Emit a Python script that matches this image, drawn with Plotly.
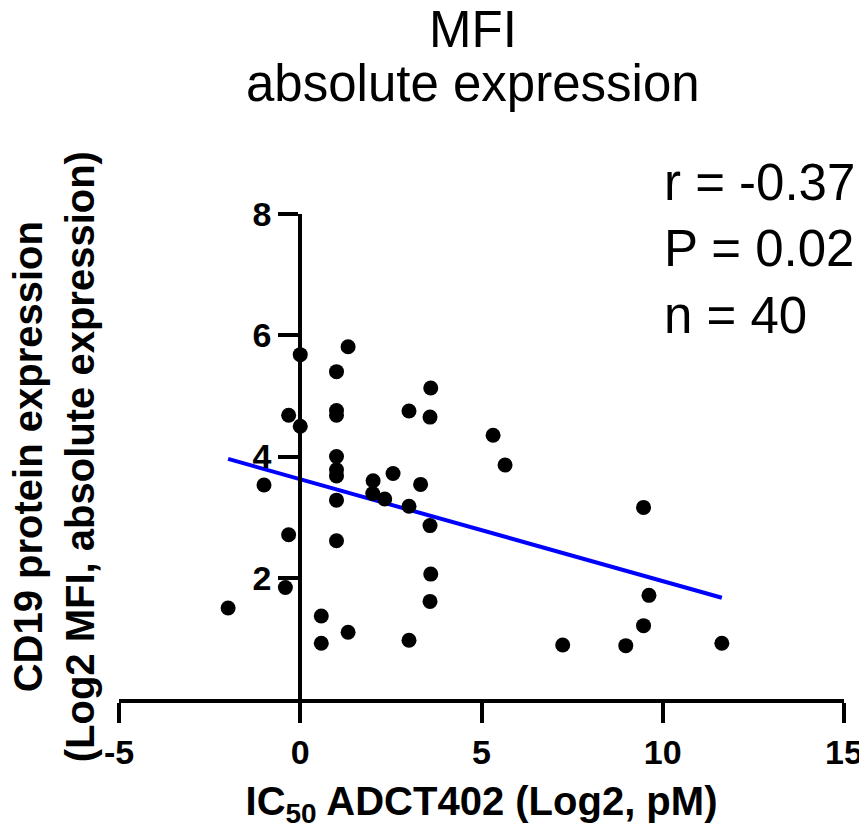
import plotly.graph_objects as go

# IC50 ADCT402 (Log2, pM) vs CD19 MFI (Log2)
ic50 = [0.0, 1.32, 1.0, -0.32, 1.0, 1.0, 0.0, 1.0, 1.0, 1.0,
        -1.0, 1.0, 2.01, 2.56, 2.0, 2.33, -0.32, 1.0, -0.41, -1.99,
        0.58, 1.32, 0.58, 3.6, 3.0, 3.58, 5.32, 5.65, 3.32, 3.0,
        3.58, 9.47, 3.6, 3.58, 9.62, 9.47, 3.0, 7.24, 8.98, 11.63]
mfi = [5.68, 5.81, 5.4, 4.68, 4.76, 4.68, 4.5, 4.0, 3.78, 3.68,
       3.53, 3.28, 3.6, 3.72, 3.39, 3.3, 2.71, 2.61, 1.84, 1.5,
       1.37, 1.1, 0.92, 5.13, 4.75, 4.65, 4.35, 3.86, 3.54, 3.18,
       2.86, 3.16, 2.06, 1.61, 1.71, 1.21, 0.97, 0.89, 0.88, 0.92]

# regression line ends
fit_x = [-1.99, 11.63]
fit_y = [3.96, 1.67]

x_ticks = [-5, 0, 5, 10, 15]
x_labels = ["-5", "0", "5", "10", "15"]
y_ticks = [2, 4, 6, 8]
stats = ["r = -0.37", "P = 0.02", "n = 40"]

font = "Arial, Liberation Sans, Helvetica, sans-serif"

fig = go.Figure()
fig.add_trace(go.Scatter(x=fit_x, y=fit_y, mode="lines",
                         line=dict(color="#0000ff", width=4), showlegend=False))
fig.add_trace(go.Scatter(x=ic50, y=mfi, mode="markers",
                         marker=dict(color="black", size=15), showlegend=False))

# page body has an 8px margin, so the figure is a bit smaller than the window
fig.update_layout(
    width=859, height=824,
    margin=dict(l=111, r=23, t=206, b=133),
    plot_bgcolor="white", paper_bgcolor="white",
    font=dict(family=font, color="black"),
    xaxis=dict(range=[-5, 15], tickvals=x_ticks, ticktext=x_labels,
               showline=True, linewidth=4, automargin=False,
               linecolor="black", ticks="outside", ticklen=20, tickwidth=4,
               tickcolor="black", showgrid=False, zeroline=False,
               tickfont=dict(size=34, family=font, weight="bold"),
               ticklabelstandoff=0,
               title=dict(text="<b>IC<sub>50</sub> ADCT402 (Log2, pM)</b>",
                          font=dict(size=40), standoff=18)),
    yaxis=dict(range=[0, 8], tickvals=y_ticks, showline=True, linewidth=4,
               linecolor="black", ticks="outside", ticklen=20, tickwidth=4,
               tickcolor="black", showgrid=False, zeroline=False,
               anchor="free", position=0.25, automargin=False,
               tickfont=dict(size=34, family=font, weight="bold")),
)

# two-line title
fig.add_annotation(text="MFI", xref="paper", yref="paper", x=0.488, y=1.381,
                   xanchor="center", yanchor="middle", showarrow=False,
                   font=dict(size=51))
fig.add_annotation(text="absolute expression", xref="paper", yref="paper",
                   x=0.488, y=1.27, xanchor="center", yanchor="middle",
                   showarrow=False, font=dict(size=51))

fig.add_annotation(text="<b>CD19 protein expression<br>(Log2 MFI, absolute expression)</b>",
                   textangle=-90, xref="paper", yref="paper", x=-0.09, y=0.5,
                   xanchor="center", yanchor="middle", showarrow=False,
                   font=dict(size=40))
fig.add_annotation(text="<br>".join(stats), xref="paper", yref="paper",
                   x=0.749, y=0.928, xanchor="left", yanchor="middle", align="left",
                   showarrow=False, font=dict(size=51))

fig.write_html("out.html")
